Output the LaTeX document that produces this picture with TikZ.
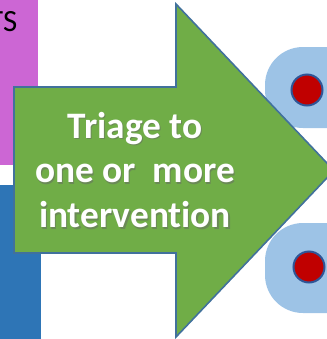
\documentclass[tikz,border=0pt]{standalone}
\usepackage{fontspec}
\setmainfont{Carlito}[RawFeature=-liga]
\definecolor{purpbar}{HTML}{CC66D4}
\definecolor{bluebar}{HTML}{2E75B6}
\definecolor{arrowgreen}{HTML}{70AD47}
\definecolor{arrowedge}{HTML}{41719C}
\definecolor{lightpad}{HTML}{9DC3E6}
\definecolor{dotred}{HTML}{C00000}
\definecolor{dotring}{HTML}{2F5597}
\tikzset{
  pad/.style={fill=lightpad, rounded corners=38bp},
  dot/.style={circle, fill=dotred, draw=dotring, line width=2bp, minimum size=31bp, inner sep=0pt},
  bigarrow/.style={fill=arrowgreen, draw=arrowedge, line width=1.6bp, line join=miter},
  arrowtext/.style={text=white, align=center, font=\bfseries\fontsize{37.5}{45}\selectfont},
}
\begin{document}
\begin{tikzpicture}[x=1bp,y=-1bp]
\useasboundingbox (0,0) rectangle (327,339);
\clip (0,0) rectangle (327,339);
\fill[purpbar] (0,0) rectangle (37.7,165);
\fill[bluebar] (0,185) rectangle (41,339);
\node[anchor=base east, inner sep=0pt, font=\fontsize{31}{31}\selectfont] (ts) at (17.5,31) {TS};
\fill[pad] (265,47) rectangle (370,128);
\fill[pad] (265,223) rectangle (370,313);
\node[dot] (d1) at (307,90) {};
\node[dot] (d2) at (309,267) {};
\draw[bigarrow] (14,87) -- (176,87) -- (176,4) -- (334,170.5) -- (176,337) -- (176,253) -- (14,253) -- cycle;
\node[arrowtext, text=black!60, opacity=0.5] at (136.2,171.2) {Triage to\\one or~ more\\intervention};
\node[arrowtext] (lbl) at (135,170) {Triage to\\one or~ more\\intervention};
\end{tikzpicture}
\end{document}
